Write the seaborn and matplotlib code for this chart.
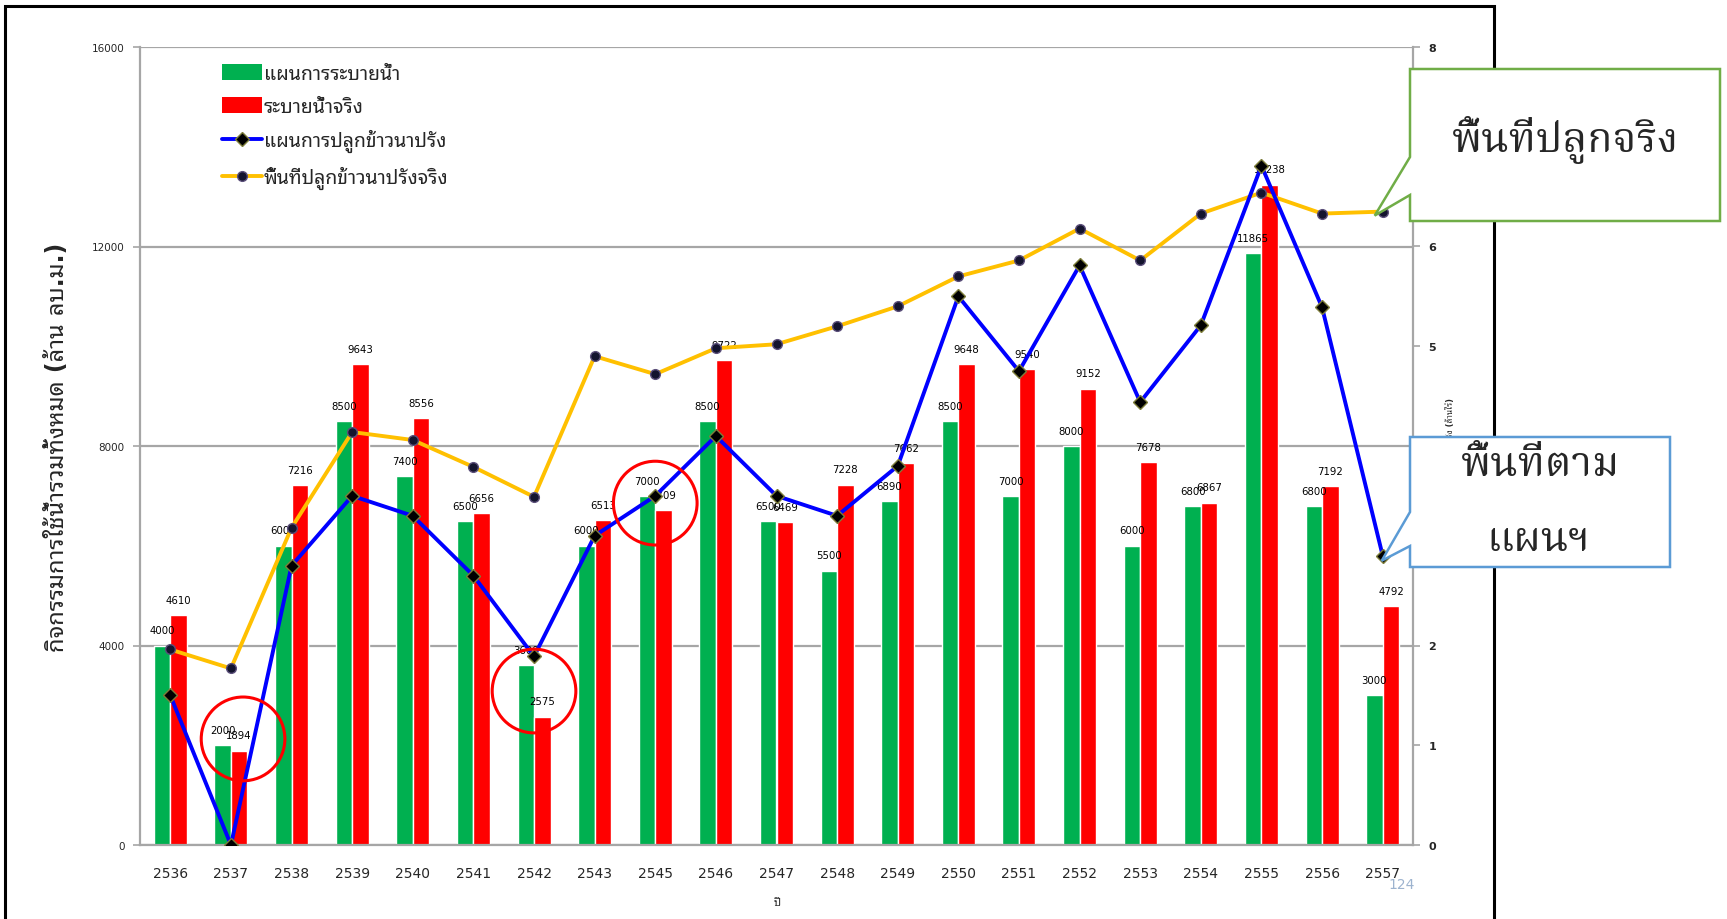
import numpy as np
import pandas as pd
import matplotlib
matplotlib.use("Agg")
import matplotlib.pyplot as plt
import seaborn as sns
from matplotlib import font_manager
from matplotlib.ft2font import FT2Font
from matplotlib.patches import Patch, Polygon, Ellipse, Rectangle
from matplotlib.lines import Line2D

# ---------------- data ----------------
years = ['2536', '2537', '2538', '2539', '2540', '2541', '2542', '2543', '2545', '2546',
         '2547', '2548', '2549', '2550', '2551', '2552', '2553', '2554', '2555', '2556', '2557']
plan_release = [4000, 2000, 6000, 8500, 7400, 6500, 3600, 6000, 7000, 8500,
                6500, 5500, 6890, 8500, 7000, 8000, 6000, 6800, 11865, 6800, 3000]
actual_release = [4610, 1894, 7216, 9643, 8556, 6656, 2575, 6513, 6709, 9722,
                  6469, 7228, 7662, 9648, 9540, 9152, 7678, 6867, 13238, 7192, 4792]
plan_area = [1.50, 0.0, 2.80, 3.50, 3.30, 2.70, 1.89, 3.10, 3.50, 4.10,
             3.50, 3.30, 3.80, 5.50, 4.75, 5.81, 4.44, 5.21, 6.81, 5.39, 2.90]
actual_area = [1.96, 1.77, 3.18, 4.14, 4.06, 3.79, 3.49, 4.90, 4.72, 4.98,
               5.02, 5.20, 5.40, 5.70, 5.86, 6.18, 5.86, 6.33, 6.54, 6.33, 6.35]
highlight_years = ['2537', '2542', '2545']

series_names = ['แผนการระบายน้ำ', 'ระบายน้ำจริง', 'แผนการปลูกข้าวนาปรัง', 'พื้นที่ปลูกข้าวนาปรังจริง']
y_left_label = 'กิจกรรมการใช้น้ำรวมทั้งหมด (ล้าน ลบ.ม.)'
y_right_label = 'พื้นที่ปลูกข้าวนาปรัง (ล้านไร่)'
x_label = 'ปี'
callout_actual = 'พื้นที่ปลูกจริง'
callout_plan = 'พื้นที่ตาม\nแผนฯ'
page_number = '124'
left_ticks = [0, 4000, 8000, 12000, 16000]
right_ticks = [0, 1, 2, 3, 4, 5, 6, 7, 8]

GREEN, RED, BLUE, YELLOW = '#00B050', '#FF0000', '#0000FF', '#FFC000'
GRID = '#A6A6A6'

# ---------------- fonts ----------------
def thai_font_names():
    names = {}
    for f in font_manager.fontManager.ttflist:
        try:
            cmap = FT2Font(f.fname).get_charmap()
        except Exception:
            continue
        if 0x0E01 in cmap and 0x0E49 in cmap:
            names.setdefault(f.name, f.fname)
    return sorted(names)

thai = thai_font_names()
def pick(prefs):
    for p in prefs:
        if p in thai:
            return p
    return thai[0] if thai else None

thai_sans = pick(['Tahoma', 'Noto Sans Thai Looped', 'Loma', 'Noto Sans Thai', 'Noto Sans Thai UI', 'Garuda'])
thai_serif = pick(['Angsana New', 'Noto Serif Thai', 'Norasi', 'Noto Sans Thai Looped', 'Noto Sans Thai'])
sans_family = ['DejaVu Sans'] + ([thai_sans] if thai_sans else [])
serif_family = ([thai_serif] if thai_serif else []) + ['DejaVu Sans']

sns.set_style('white')
plt.rcParams['font.family'] = sans_family

# ---------------- figure ----------------
W, H = 1727, 920
fig = plt.figure(figsize=(W / 100, H / 100), dpi=100, facecolor='white')
L, R, T, B = 140, 1413, 48, 846
ax = fig.add_axes([L / W, 1 - B / H, (R - L) / W, (B - T) / H])

n = len(years)
df = pd.DataFrame({
    'year': years * 2,
    'value': plan_release + actual_release,
    'series': [series_names[0]] * n + [series_names[1]] * n,
})
sns.barplot(data=df, x='year', y='value', hue='series', order=years,
            hue_order=series_names[:2], palette=[GREEN, RED], width=0.545,
            saturation=1, errorbar=None, legend=False, ax=ax, zorder=2)

ax.set_xlim(-0.5, n - 0.5)
ax.set_ylim(0, 16000)
ax.set_yticks(left_ticks)
ax.set_yticklabels([str(t) for t in left_ticks], fontsize=7.5)
ax.yaxis.grid(True, color=GRID, linewidth=1.6)
ax.xaxis.grid(False)
ax.set_axisbelow(True)
ax.set_xlabel('')
ax.set_ylabel('')
ax.set_xticks(range(n))
ax.set_xticklabels(years, fontsize=10)
ax.set_xticks(np.arange(-0.5, n, 1), minor=True)
ax.tick_params(axis='x', which='major', length=0, pad=15)
ax.tick_params(axis='x', which='minor', length=6, width=1.2, color=GRID, direction='out')
ax.tick_params(axis='y', length=5, width=1.2, color=GRID, direction='out', pad=6)
for s in ['top', 'right']:
    ax.spines[s].set_visible(False)
for s in ['left', 'bottom']:
    ax.spines[s].set_color(GRID)
    ax.spines[s].set_linewidth(1.6)

# bar value labels
half = 0.545 / 4
for i in range(n):
    for off, v in ((-half, plan_release[i]), (half, actual_release[i])):
        ax.annotate(str(v), xy=(i + off, v), xytext=(0, 11), textcoords='offset points',
                    ha='center', va='center', fontsize=7.3, color='black', zorder=3)

# ---------------- lines on secondary axis ----------------
ax2 = ax.twinx()
xs = np.arange(n)
sns.lineplot(x=xs, y=actual_area, ax=ax2, color=YELLOW, linewidth=2.8, marker='o',
             markersize=7, markerfacecolor='#14142e', markeredgecolor='#5b4f7a',
             markeredgewidth=1, legend=False, zorder=4)
sns.lineplot(x=xs, y=plan_area, ax=ax2, color=BLUE, linewidth=2.8, marker='D',
             markersize=7, markerfacecolor='black', markeredgecolor='#7d7d3a',
             markeredgewidth=1, legend=False, zorder=5)
ax2.set_ylim(0, 8)
ax2.set_xlim(-0.5, n - 0.5)
ax2.set_yticks(right_ticks)
ax2.set_yticklabels([str(t) for t in right_ticks], fontsize=8, fontweight='bold')
ax2.tick_params(axis='y', length=5, width=1.2, color=GRID, direction='out', pad=6)
ax2.grid(False)
for s in ['top', 'left', 'bottom']:
    ax2.spines[s].set_visible(False)
ax2.spines['right'].set_color(GRID)
ax2.spines['right'].set_linewidth(1.6)

# highlight circles (centre nudges are annotation styling)
circle_dx = [0.2, 0.0, 0.0]
circle_dy = [180, 0, 0]
for k, yr in enumerate(highlight_years):
    i = years.index(yr)
    cy = (plan_release[i] + actual_release[i]) / 2 + circle_dy[k]
    ax2.add_patch(Ellipse((i + circle_dx[k], cy), width=1.38, height=1680, transform=ax.transData,
                          facecolor='none', edgecolor=RED, linewidth=2.2, zorder=6))

# legend
handles = [
    Patch(facecolor=GREEN, edgecolor='none'),
    Patch(facecolor=RED, edgecolor='none'),
    Line2D([], [], color=BLUE, linewidth=2.8, marker='D', markersize=7,
           markerfacecolor='black', markeredgecolor='#7d7d3a'),
    Line2D([], [], color=YELLOW, linewidth=2.8, marker='o', markersize=7,
           markerfacecolor='#14142e', markeredgecolor='#5b4f7a'),
]
leg = ax2.legend(handles, series_names, loc='upper left',
                 bbox_to_anchor=(222 / W, 1 - 65 / H), bbox_transform=fig.transFigure,
                 frameon=False, fontsize=14, handlelength=2.05, handleheight=0.9,
                 handletextpad=0.1, labelspacing=0.7, borderpad=0, borderaxespad=0)
for t in leg.get_texts():
    t.set_family(sans_family)

# axis titles
ax.text((57 - L) / (R - L), 0.5, y_left_label, transform=ax.transAxes, rotation=90,
        ha='center', va='center', fontsize=17, fontweight='bold', family=sans_family)
ax2.text((1450 - L) / (R - L), 0.5, y_right_label, transform=ax.transAxes, rotation=90,
         ha='center', va='center', fontsize=6, fontweight='bold', family=sans_family)
fig.text(777 / W, 1 - 903 / H, x_label, ha='center', va='center', fontsize=8, family=sans_family)
fig.text(1402 / W, 1 - 885 / H, page_number, ha='center', va='center', fontsize=10, color='#9DB3CF')

# outer frame
fig.patches.append(Rectangle((5 / W, -0.05), (1494 - 5) / W, 1 - 7 / H + 0.05,
                             transform=fig.transFigure, facecolor='none',
                             edgecolor='black', linewidth=2.2, zorder=1))

# callouts
def to_fig(disp):
    return fig.transFigure.inverted().transform(disp)

def callout(l, r, t, b, p1, p2, tip_disp, edge, lw):
    tip = to_fig(tip_disp)
    pts = [(l / W, 1 - t / H), (r / W, 1 - t / H), (r / W, 1 - b / H), (l / W, 1 - b / H),
           (l / W, 1 - p2 / H), tuple(tip), (l / W, 1 - p1 / H)]
    fig.patches.append(Polygon(pts, closed=True, transform=fig.transFigure,
                               facecolor='white', edgecolor=edge, linewidth=lw, zorder=2))

tip1 = ax2.transData.transform((n - 1, actual_area[-1])) + np.array([-8, -4])
tip2 = ax2.transData.transform((n - 1, plan_area[-1])) + np.array([-1, -5])
callout(1410, 1720, 70, 222, 158, 196, tip1, '#70AD47', 1.8)
callout(1410, 1670, 438, 568, 513, 547, tip2, '#5B9BD5', 1.8)

fig.text(1565 / W, 1 - 140 / H, callout_actual, ha='center', va='center',
         fontsize=30, family=serif_family, zorder=3)
fig.text(1540 / W, 1 - 465 / H, callout_plan.split('\n')[0], ha='center', va='center',
         fontsize=30, family=serif_family, zorder=3)
fig.text(1538 / W, 1 - 540 / H, callout_plan.split('\n')[1], ha='center', va='center',
         fontsize=30, family=serif_family, zorder=3)

fig.savefig('out.png', dpi=100, facecolor='white')
